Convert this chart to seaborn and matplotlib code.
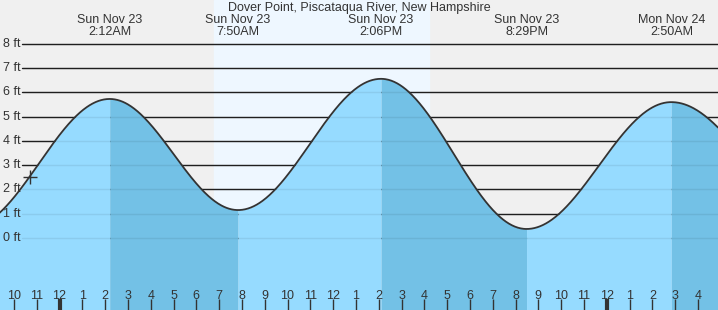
import numpy as np
import pandas as pd
import matplotlib
matplotlib.use("Agg")
import matplotlib.pyplot as plt
import matplotlib.transforms as mtransforms
import seaborn as sns

# ---- data (hours relative to midnight, Sun Nov 23) ----
title = "Dover Point, Piscataqua River, New Hampshire"
ext_hours = [-4.0, 2.2, 7.833, 14.1, 20.483, 26.833, 33.3]
ext_heights = [0.42, 5.73, 1.15, 6.56, 0.37, 5.60, 1.0]
event_labels = ["Sun Nov 23\n2:12AM", "Sun Nov 23\n7:50AM", "Sun Nov 23\n2:06PM",
                "Sun Nov 23\n8:29PM", "Mon Nov 24\n2:50AM"]
event_hours = [2.2, 7.833, 14.1, 20.483, 26.833]
ft_ticks = [0, 1, 2, 3, 4, 5, 6, 7, 8]
ft_labels = ["0 ft", "1 ft", "2 ft", "3 ft", "4 ft", "5 ft", "6 ft", "7 ft", "8 ft"]
hour_ticks = list(range(-2, 29))
hour_labels = ["10", "11", "12", "1", "2", "3", "4", "5", "6", "7", "8", "9", "10", "11",
               "12", "1", "2", "3", "4", "5", "6", "7", "8", "9", "10", "11",
               "12", "1", "2", "3", "4"]
midnight_hours = [0, 24]
sunrise, sunset = 6.77, 16.2
now_hour, now_height = -1.3, 2.5

# ---- styling ----
sns.set_style("white")
plt.rcParams["font.family"] = ["Liberation Sans", "DejaVu Sans"]
TXT = "#333333"
BG = "#F0F0F0"
DAY = "#EEF7FF"
RISE = "#96DBFF"
FALL = "#73C1E6"

x0, x1 = -2.61, 28.88
y0, y1 = -2.97, 9.81

fig = plt.figure(figsize=(7.18, 3.10), dpi=100)
ax = fig.add_axes([0, 0, 1, 1])
ax.set_facecolor(BG)
fig.patch.set_facecolor(BG)
ax.set_xlim(x0, x1)
ax.set_ylim(y0, y1)
for s in ax.spines.values():
    s.set_visible(False)

ax.axvspan(sunrise, sunset, color=DAY, zorder=0)

# grid lines
for v in ft_ticks:
    ax.axhline(v, xmin=22 / 718, xmax=1, color="#222222", lw=1.0, zorder=1)

# tide curve (cosine shape between predicted extremes)
segs = []
for i in range(len(ext_hours) - 1):
    ta, tb = ext_hours[i], ext_hours[i + 1]
    ha, hb = ext_heights[i], ext_heights[i + 1]
    t = np.linspace(ta, tb, 200)
    h = ha + (hb - ha) * (1 - np.cos(np.pi * (t - ta) / (tb - ta))) / 2
    col = RISE if hb > ha else FALL
    ax.fill_between(t, y0, h, color=col, lw=0, zorder=2)
    segs.append(pd.DataFrame({"hour": t, "height": h}))
curve = pd.concat(segs, ignore_index=True)

# faint grid lines over water
for v in ft_ticks:
    ax.axhline(v, xmin=22 / 718, xmax=1, color="#000000", alpha=0.07, lw=1.0, zorder=3)

sns.lineplot(data=curve, x="hour", y="height", color="#333333", lw=1.3, ax=ax,
             zorder=4, sort=False)

ax.plot([now_hour], [now_height], marker="+", ms=10, mew=1.0, color="#333333", zorder=5)

# y labels
ytr = mtransforms.blended_transform_factory(ax.transAxes, ax.transData)
for v, lbl in zip(ft_ticks, ft_labels):
    ax.text(3 / 718, v, lbl, transform=ytr, ha="left", va="center", fontsize=9, color=TXT)

# x ticks
ax.set_xticks(hour_ticks)
ax.set_xticklabels([])
ax.tick_params(axis="x", direction="in", length=8, width=1, color=TXT, bottom=True)
ax.tick_params(axis="y", left=False, labelleft=False)
ax.xaxis.set_zorder(6)
for tk, hv in zip(ax.xaxis.get_major_ticks(), hour_ticks):
    if hv in midnight_hours:
        tk.tick1line.set_markeredgewidth(3)
xtr = mtransforms.blended_transform_factory(ax.transData, ax.transAxes)
for hv, lbl in zip(hour_ticks, hour_labels):
    ax.text(hv, 1 - 296 / 310, lbl, transform=xtr, ha="center", va="center",
            fontsize=9, color=TXT, zorder=7)

# event labels and title
for hv, lbl in zip(event_hours, event_labels):
    ax.text(hv, 1 - 26 / 310, lbl, transform=xtr, ha="center", va="center",
            fontsize=9, color=TXT, linespacing=1.1)
ax.text(0.5, 1 - 8 / 310, title, transform=ax.transAxes, ha="center", va="center",
        fontsize=9, color=TXT)

ax.set_xlabel("")
ax.set_ylabel("")
fig.savefig("out.png", dpi=100, facecolor=BG)
